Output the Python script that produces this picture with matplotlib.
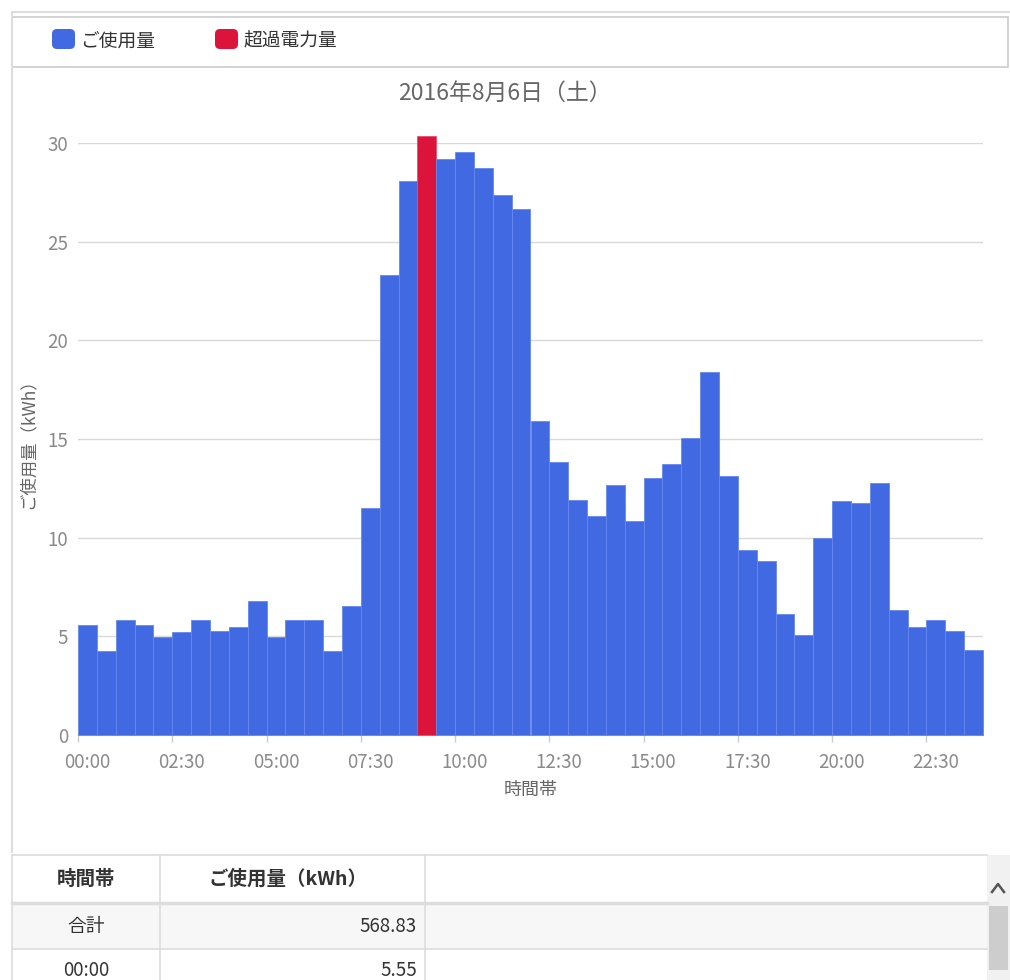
import numpy as np
import matplotlib
matplotlib.use("Agg")
import matplotlib.pyplot as plt
from matplotlib.patches import Rectangle, FancyBboxPatch
from matplotlib.lines import Line2D

plt.rcParams['font.family'] = ['Noto Sans CJK JP', 'DejaVu Sans']

# --- data (30-minute slots, kWh) ---
usage = [5.55, 4.27, 5.81, 5.56, 4.98, 5.20, 5.81, 5.27, 5.47, 6.80,
         4.98, 5.81, 5.81, 4.27, 6.53, 11.51, 23.32, 28.09, 30.33, 29.17,
         29.54, 28.71, 27.37, 26.64, 15.90, 13.83, 11.92, 11.09, 12.69, 10.84,
         13.04, 13.75, 15.07, 18.41, 13.14, 9.37, 8.83, 6.12, 5.06, 9.99,
         11.88, 11.78, 12.75, 6.32, 5.45, 5.81, 5.29, 4.29]
over_slot = 18  # 09:00 slot exceeds contract
tick_labels = ["00:00", "02:30", "05:00", "07:30", "10:00",
               "12:30", "15:00", "17:30", "20:00", "22:30"]
series_names = ["ご使用量", "超過電力量"]
series_colors = ["#4169E1", "#DC143C"]
title = "2016年8月6日（土）"
table_header = ["時間帯", "ご使用量（kWh）"]
table_rows = [["合計", "568.83"], ["00:00", "5.55"]]

W, H = 1010, 980


def px(x, y):
    return (x / W, 1 - y / H)


fig = plt.figure(figsize=(W / 100, H / 100), dpi=100)
fig.patch.set_facecolor("white")

# plot area
x0, x1, ytop, ybot = 78, 983, 143, 735
ax = fig.add_axes([x0 / W, 1 - ybot / H, (x1 - x0) / W, (ybot - ytop) / H])

x = np.arange(len(usage))
colors = [series_colors[1] if i == over_slot else series_colors[0] for i in x]
edges = ["#e5506c" if i == over_slot else "#6688ee" for i in x]
ax.bar(x, usage, width=1.0, color=colors, edgecolor=edges, linewidth=0.6,
       clip_on=False, zorder=3)

ax.set_xlim(-0.5, len(usage) - 0.5)
ax.set_ylim(0, 30)
ax.set_yticks(np.arange(0, 31, 5))
ax.yaxis.grid(True, color="#d9d9d9", linewidth=1.0, zorder=0)
ax.set_axisbelow(True)

ax.set_xticks(np.arange(0, len(usage), 5))
ax.set_xticklabels(tick_labels)
ax.set_xticks(np.arange(0, len(usage), 5) - 0.5, minor=True)
ax.tick_params(axis="x", which="major", length=0, pad=12, labelsize=13.5,
               labelcolor="#8a8a8a")
ax.tick_params(axis="x", which="minor", length=5, color="#cccccc", width=1)
ax.tick_params(axis="y", length=0, pad=7, labelsize=13.5, labelcolor="#8a8a8a")

for s in ["top", "right", "left"]:
    ax.spines[s].set_visible(False)
ax.spines["bottom"].set_color("#cccccc")

ax.set_xlabel("時間帯", fontsize=13, color="#666666", labelpad=6)
ax.set_ylabel("ご使用量（kWh）", fontsize=12.5, color="#666666", labelpad=8)

fig.text(*px(505, 93), title, ha="center", va="center", fontsize=16.5,
         color="#666666")

# outer frame and legend box
fig.add_artist(Line2D([12 / W, 1], [1 - 12 / H] * 2, color="#dddddd", lw=1.5))
fig.add_artist(Line2D([12 / W] * 2, [1 - 12 / H, 1 - 852 / H], color="#dddddd", lw=1.5))
fig.add_artist(Rectangle(px(12, 67), (1008 - 12) / W, 50 / H, fill=False,
                         edgecolor="#cccccc", lw=1.2))

legend_x = [52, 215]
for lx, name, col in zip(legend_x, series_names, series_colors):
    fig.add_artist(FancyBboxPatch(px(lx, 49), 23 / W, 20 / H,
                                  boxstyle="round,pad=0,rounding_size=0.005",
                                  facecolor=col, edgecolor="none"))
    fig.text(*px(lx + 28, 41), name, ha="left", va="center", fontsize=13.5,
             color="#333333")

# table below chart
line_c = "#dddddd"
fig.add_artist(Rectangle(px(987, 980), 23 / W, 125 / H, facecolor="#f1f1f1",
                         edgecolor="none"))
fig.add_artist(Rectangle(px(989, 970), 19 / W, 64 / H, facecolor="#cdcdcd",
                         edgecolor="none"))
fig.add_artist(Line2D([992 / W, 998 / W, 1004 / W],
                      [1 - 892 / H, 1 - 884 / H, 1 - 892 / H],
                      color="#555555", lw=1.8))
fig.add_artist(Rectangle(px(12, 948), (987 - 12) / W, 43 / H,
                         facecolor="#f7f7f7", edgecolor="none"))
for yy, lw in [(855, 1.2), (903, 2.5), (949, 1.2)]:
    fig.add_artist(Line2D([12 / W, 987 / W], [1 - yy / H] * 2, color=line_c, lw=lw))
for xx in [12, 160, 425]:
    fig.add_artist(Line2D([xx / W] * 2, [1 - 855 / H, 0], color=line_c, lw=1.2))

col_centers = [86, 288]
for cx, hdr in zip(col_centers, table_header):
    fig.text(*px(cx, 879), hdr, ha="center", va="center", fontsize=14,
             fontweight="bold", color="#333333")
for ry, row in zip([926, 970], table_rows):
    fig.text(*px(86, ry), row[0], ha="center", va="center", fontsize=13.5,
             color="#333333")
    fig.text(*px(417, ry), row[1], ha="right", va="center", fontsize=13.5,
             color="#333333")

fig.savefig("out.png", dpi=100)
